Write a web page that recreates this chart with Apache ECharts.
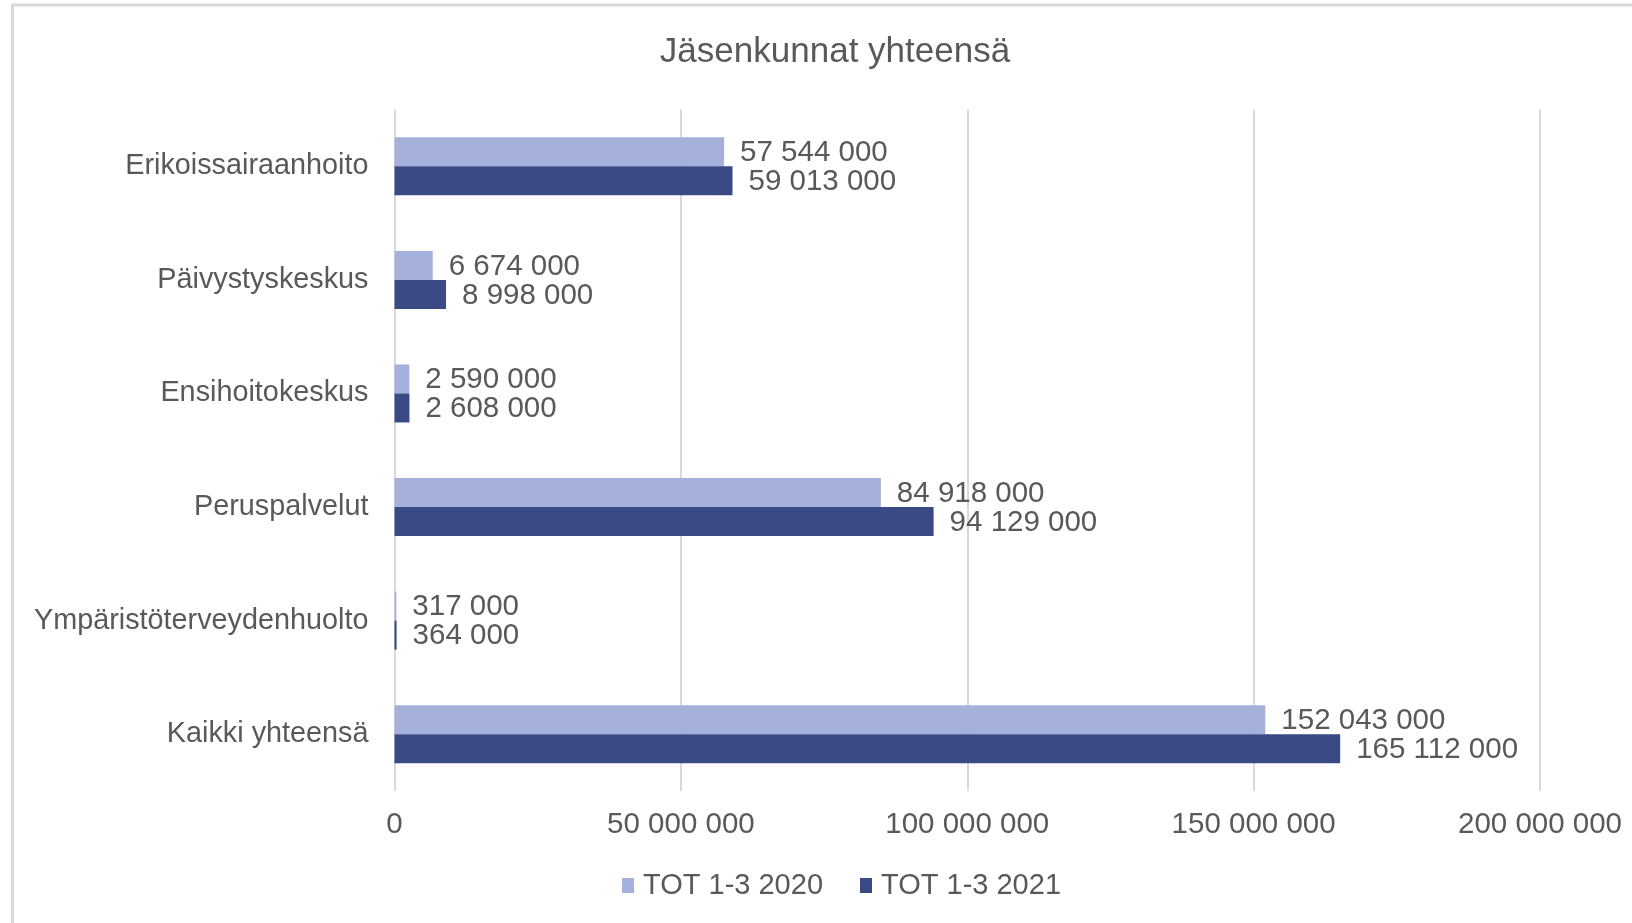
<!DOCTYPE html>
<html>
<head>
<meta charset="utf-8">
<script src="https://cdn.jsdelivr.net/npm/echarts@6/dist/echarts.min.js"></script>
<style>
html,body{margin:0;padding:0;background:#fff;}
#chart{width:1632px;height:923px;}
</style>
</head>
<body>
<div id="chart"></div>
<script>
const categories = ['Erikoissairaanhoito','Päivystyskeskus','Ensihoitokeskus','Peruspalvelut','Ympäristöterveydenhuolto','Kaikki yhteensä'];
const series2020 = [57544000, 6674000, 2590000, 84918000, 317000, 152043000];
const series2021 = [59013000, 8998000, 2608000, 94129000, 364000, 165112000];
const seriesNames = ['TOT 1-3 2020','TOT 1-3 2021'];
const xTicks = [0, 50000000, 100000000, 150000000, 200000000];

const FONT = '"Liberation Sans", Arial, sans-serif';
const TXT = '#595959';
function fmt(v){ return String(v).replace(/\B(?=(\d{3})+(?!\d))/g, ' '); }

const chart = echarts.init(document.getElementById('chart'));
chart.setOption({
  backgroundColor: '#fff',
  animation: false,
  graphic: [{
    type: 'rect', silent: true,
    shape: {x: 12.5, y: 5, width: 1800, height: 1100},
    style: {fill: 'none', stroke: '#d9d9d9', lineWidth: 3}
  }],
  title: {
    text: 'Jäsenkunnat yhteensä',
    left: 830, top: 30, textAlign: 'center',
    textStyle: {fontFamily: FONT, fontSize: 35, fontWeight: 'normal', color: TXT}
  },
  legend: {
    data: seriesNames,
    left: 622, top: 871, padding: 0,
    icon: 'rect', itemWidth: 12, itemHeight: 15, itemGap: 37,
    textStyle: {fontFamily: FONT, fontSize: 29, color: TXT, padding: [0,0,0,4]}
  },
  grid: {left: 394.5, right: 92, top: 109.5, bottom: 132, containLabel: false},
  xAxis: {
    type: 'value', min: xTicks[0], max: xTicks[xTicks.length-1], interval: xTicks[1]-xTicks[0],
    axisLine: {show: false}, axisTick: {show: false},
    splitLine: {show: true, lineStyle: {color: '#d9d9d9', width: 2}},
    axisLabel: {fontFamily: FONT, fontSize: 29.5, color: TXT, margin: 19, formatter: fmt}
  },
  yAxis: {
    type: 'category', data: categories, inverse: true,
    axisLine: {show: false}, axisTick: {show: false},
    axisLabel: {fontFamily: FONT, fontSize: 28.8, color: TXT, margin: 26}
  },
  series: [
    {name: seriesNames[0], type: 'bar', data: series2020, barWidth: 29, barGap: '0%',
     itemStyle: {color: '#a5b1da'},
     label: {show: true, position: 'right', distance: 16, fontFamily: FONT, fontSize: 29.5, color: TXT, offset: [0, 1], formatter: p => fmt(p.value)}},
    {name: seriesNames[1], type: 'bar', data: series2021, barWidth: 29, barGap: '0%',
     itemStyle: {color: '#3a4a84'},
     label: {show: true, position: 'right', distance: 16, fontFamily: FONT, fontSize: 29.5, color: TXT, offset: [0, 1], formatter: p => fmt(p.value)}}
  ]
});
</script>
</body>
</html>
